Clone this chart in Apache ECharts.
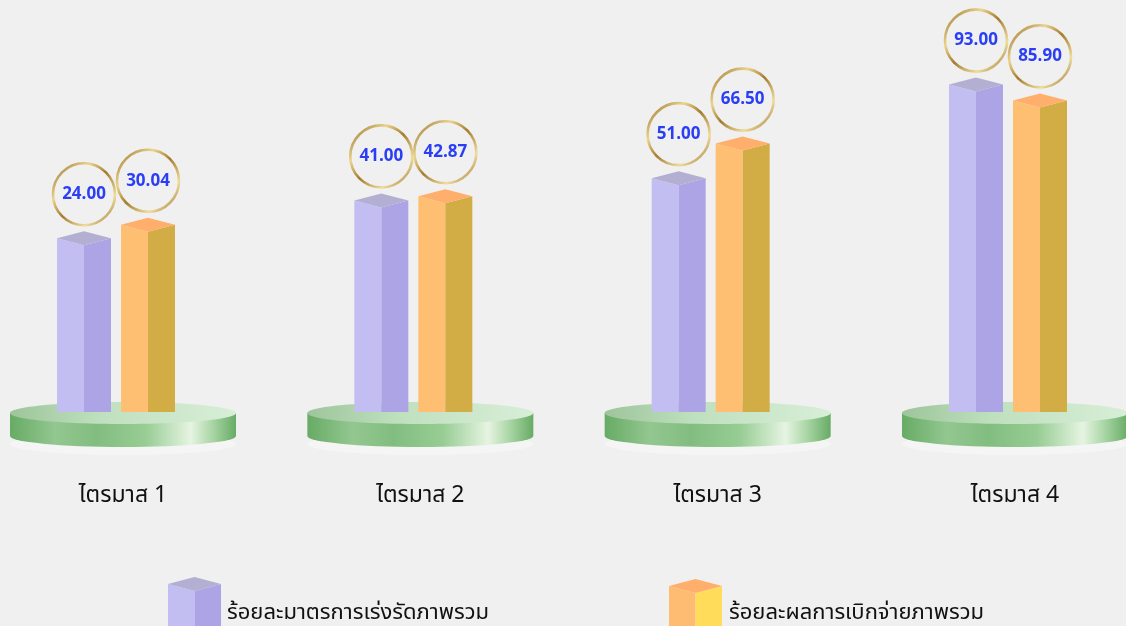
<!DOCTYPE html>
<html>
<head>
<meta charset="utf-8">
<script src="https://cdn.jsdelivr.net/npm/echarts@6/dist/echarts.min.js"></script>
<style>
  html, body { margin: 0; padding: 0; background: #f0f0f0; }
  #chart { width: 1126px; height: 626px; }
</style>
</head>
<body>
<div id="chart"></div>
<script>
const quarters = ['ไตรมาส 1', 'ไตรมาส 2', 'ไตรมาส 3', 'ไตรมาส 4'];
const seriesNames = ['ร้อยละมาตรการเร่งรัดภาพรวม', 'ร้อยละผลการเบิกจ่ายภาพรวม'];
const speedUpPct = [24.00, 41.00, 51.00, 93.00];
const disbursePct = [30.04, 42.87, 66.50, 85.90];

const Y_MIN = -54;
const THAI_FONT = "'Noto Sans Thai', 'Noto Sans', Tahoma, sans-serif";

const purpleFaces = {front: '#c3bef2', side: '#ada4e5', top: '#b3afd3'};
const orangeFaces = {front: '#febf73', side: '#d2ac45', top: '#ffae6b'};

const goldRing = new echarts.graphic.LinearGradient(0, 0, 1, 1, [
  {offset: 0, color: '#8e6420'},
  {offset: 0.3, color: '#ead58e'},
  {offset: 0.5, color: '#a47b2c'},
  {offset: 0.75, color: '#efdc9c'},
  {offset: 1, color: '#88601e'}
]);

// 3D-looking bar + ring label above it
function prismItem(faces, offset) {
  return function (params, api) {
    const idx = api.value(0);
    const val = api.value(1);
    const top = api.coord([idx, val]);
    const base = api.coord([idx, Y_MIN]);
    const cx = top[0] + offset;
    const hw = 27, d = 7;
    const x0 = cx - hw, x1 = cx + hw, yt = top[1], yb = base[1];
    return {
      type: 'group',
      children: [
        {type: 'polygon', shape: {points: [[x0, yt], [cx, yt + d], [cx, yb], [x0, yb]]}, style: {fill: faces.front}},
        {type: 'polygon', shape: {points: [[cx, yt + d], [x1, yt], [x1, yb], [cx, yb]]}, style: {fill: faces.side}},
        {type: 'polygon', shape: {points: [[x0, yt], [cx, yt - d], [x1, yt], [cx, yt + d]]}, style: {fill: faces.top}},
        {type: 'circle', shape: {cx: cx, cy: yt - 44, r: 31}, style: {fill: 'rgba(0,0,0,0)', stroke: goldRing, lineWidth: 2.6}},
        {
          type: 'text', x: cx, y: yt - 44,
          style: {
            text: val.toFixed(2), align: 'center', verticalAlign: 'middle',
            fontSize: 17, fontWeight: 'bold', fontFamily: 'Open Sans', fill: '#2a3ef6'
          }
        }
      ]
    };
  };
}

// green disc under each quarter
function pedestalItem(params, api) {
  const p = api.coord([api.value(0), Y_MIN]);
  const cx = p[0], cy = p[1] + 1, rx = 113, ry = 11, h = 23;
  const sideGrad = new echarts.graphic.LinearGradient(0, 0, 1, 0, [
    {offset: 0, color: '#67ab65'},
    {offset: 0.2, color: '#93c790'},
    {offset: 0.38, color: '#82bd80'},
    {offset: 0.6, color: '#97cd94'},
    {offset: 0.8, color: '#e6f4e2'},
    {offset: 0.9, color: '#a6d4a2'},
    {offset: 1, color: '#67ab65'}
  ]);
  const topGrad = new echarts.graphic.LinearGradient(0, 0, 1, 0, [
    {offset: 0, color: '#9dc59b'},
    {offset: 0.4, color: '#bfe0be'},
    {offset: 1, color: '#d8eed7'}
  ]);
  const body = 'M' + (cx - rx) + ',' + cy + ' L' + (cx - rx) + ',' + (cy + h) +
    ' A' + rx + ',' + ry + ' 0 0 0 ' + (cx + rx) + ',' + (cy + h) +
    ' L' + (cx + rx) + ',' + cy + ' Z';
  return {
    type: 'group',
    children: [
      {type: 'ellipse', shape: {cx: cx, cy: cy + h + 8, rx: rx, ry: ry}, style: {fill: 'rgba(255,255,255,0.35)'}},
      {type: 'path', shape: {pathData: body}, style: {fill: sideGrad}},
      {type: 'ellipse', shape: {cx: cx, cy: cy, rx: rx, ry: ry}, style: {fill: topGrad}}
    ]
  };
}

function legendIcon(x, yt, faces) {
  const hw = 26.5, d = 7, cx = x + hw, yb = 640;
  return [
    {type: 'polygon', shape: {points: [[x, yt], [cx, yt + d], [cx, yb], [x, yb]]}, style: {fill: faces.front}},
    {type: 'polygon', shape: {points: [[cx, yt + d], [x + 2 * hw, yt], [x + 2 * hw, yb], [cx, yb]]}, style: {fill: faces.side}},
    {type: 'polygon', shape: {points: [[x, yt], [cx, yt - d], [x + 2 * hw, yt], [cx, yt + d]]}, style: {fill: faces.top}}
  ];
}

const chart = echarts.init(document.getElementById('chart'));
chart.setOption({
  backgroundColor: '#f0f0f0',
  animation: false,
  grid: {left: 123, right: 111, top: 69, bottom: 214},
  xAxis: {
    type: 'category',
    data: quarters,
    boundaryGap: false,
    axisLine: {show: false},
    axisTick: {show: false},
    splitLine: {show: false},
    axisLabel: {fontSize: 23, color: '#111', fontFamily: THAI_FONT, margin: 74}
  },
  yAxis: {type: 'value', min: Y_MIN, max: 100, show: false},
  graphic: [
    ...legendIcon(168, 584, purpleFaces),
    ...legendIcon(669, 586, {front: '#febc73', side: '#ffdc5a', top: '#ffae6b'}),
    {type: 'text', x: 227, y: 615, style: {text: seriesNames[0], fontSize: 22, fontFamily: THAI_FONT, fill: '#111', verticalAlign: 'middle'}},
    {type: 'text', x: 729, y: 615, style: {text: seriesNames[1], fontSize: 22, fontFamily: THAI_FONT, fill: '#111', verticalAlign: 'middle'}}
  ],
  series: [
    {
      type: 'custom', name: 'pedestal', z: 1,
      renderItem: pedestalItem,
      data: quarters.map((q, i) => [i, Y_MIN])
    },
    {
      type: 'custom', name: seriesNames[0], z: 2,
      renderItem: prismItem(purpleFaces, -39),
      encode: {x: 0, y: 1},
      data: speedUpPct.map((v, i) => [i, v])
    },
    {
      type: 'custom', name: seriesNames[1], z: 2,
      renderItem: prismItem(orangeFaces, 25),
      encode: {x: 0, y: 1},
      data: disbursePct.map((v, i) => [i, v])
    }
  ]
});
</script>
</body>
</html>
